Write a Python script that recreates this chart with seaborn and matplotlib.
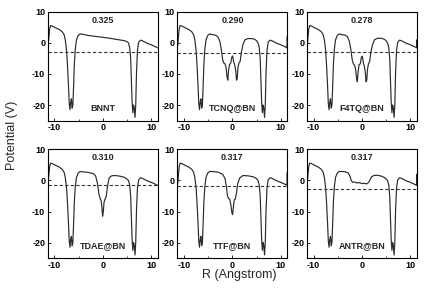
import numpy as np
import pandas as pd
import matplotlib
matplotlib.use("Agg")
import matplotlib.pyplot as plt
import seaborn as sns
from matplotlib.ticker import MultipleLocator

sns.set_theme(style="ticks")
plt.rcParams['font.family'] = ['Liberation Sans', 'DejaVu Sans']
plt.rcParams['axes.unicode_minus'] = False

names = ["BNNT", "TCNQ@BN", "F4TQ@BN", "TDAE@BN", "TTF@BN", "ANTR@BN"]
gaps = ["0.325", "0.290", "0.278", "0.310", "0.317", "0.317"]
fermi = [-3.0, -3.1, -3.0, -1.4, -1.9, -2.6]
edge_spike = [None, 2.0, 1.0, None, 2.5, 2.0]

left_x = [-11.3, -11.15, -11.0, -10.8, -10.4, -9.8, -9.0, -8.4, -8.0, -7.75, -7.5, -7.3,
          -7.1, -6.95, -6.8, -6.65, -6.5, -6.35, -6.2, -6.05, -5.9, -5.7, -5.45, -5.1, -4.7]
left_y = [-1.0, 2.0, 4.5, 5.6, 5.4, 4.9, 4.3, 3.6, 2.6, 0.8, -2.5, -7.5,
          -14.0, -19.5, -21.5, -19.0, -18.0, -21.0, -20.0, -14.0, -7.0, -2.0, 1.0, 2.4, 2.9]

right_x = [5.3, 5.55, 5.75, 5.9, 6.05, 6.2, 6.35, 6.5, 6.65, 6.8, 6.95, 7.15, 7.4,
           7.8, 8.3, 9.0, 10.0, 11.0, 11.3]
right_y = [0.0, -1.5, -5.0, -12.0, -19.0, -22.5, -20.0, -21.0, -24.0, -20.0, -10.0, -2.5, 0.2,
           0.9, 0.6, 0.0, -0.6, -1.3, -1.6]

mid_x = [
    [-4.2, -3.0, -1.0, 1.0, 3.0, 4.5, 5.0],
    [-4.2, -3.5, -3.0, -2.6, -2.3, -2.0, -1.75, -1.5, -1.3, -1.1, -0.95, -0.8, -0.6, -0.35,
     -0.1, 0.05, 0.25, 0.5, 0.7, 0.85, 1.0, 1.15, 1.35, 1.6, 1.85, 2.2, 2.6, 3.2, 4.0, 4.6, 5.0],
    [-4.2, -3.5, -3.0, -2.6, -2.3, -2.0, -1.75, -1.5, -1.3, -1.1, -0.95, -0.8, -0.6, -0.35,
     -0.1, 0.1, 0.3, 0.5, 0.7, 0.85, 1.0, 1.15, 1.35, 1.6, 1.85, 2.2, 2.6, 3.2, 4.0, 4.6, 5.0],
    [-4.2, -3.0, -2.0, -1.5, -1.1, -0.8, -0.55, -0.35, -0.2, -0.05, 0.1, 0.25, 0.45, 0.7,
     0.95, 1.3, 1.8, 2.5, 3.5, 4.5, 5.0],
    [-4.2, -3.0, -2.0, -1.5, -1.2, -1.0, -0.8, -0.55, -0.3, -0.1, 0.05, 0.2, 0.4, 0.6,
     0.85, 1.1, 1.5, 2.2, 3.2, 4.3, 5.0],
    [-4.2, -3.5, -2.9, -2.5, -2.2, -1.9, -1.5, -1.0, -0.5, 0.0, 0.5, 1.0, 1.4, 1.7,
     2.0, 2.5, 3.2, 4.0, 4.6, 5.0],
]
mid_y = [
    [2.8, 2.4, 2.0, 1.6, 1.1, 0.7, 0.4],
    [2.7, 2.5, 2.0, 0.5, -2.0, -5.5, -6.5, -6.8, -8.0, -11.0, -12.0, -9.0, -7.0, -6.5,
     -4.5, -4.2, -6.0, -7.2, -9.0, -12.0, -11.5, -8.0, -6.5, -6.0, -3.0, -0.5, 1.0, 1.4, 1.4, 1.2, 0.7],
    [2.7, 2.5, 2.0, 0.5, -2.0, -5.5, -6.8, -7.2, -8.5, -11.5, -12.5, -9.5, -7.0, -6.8,
     -4.5, -4.3, -6.5, -7.5, -9.5, -12.5, -12.0, -8.5, -6.8, -6.0, -3.0, -0.5, 1.0, 1.5, 1.5, 1.2, 0.7],
    [2.8, 2.6, 2.2, 1.5, -1.0, -4.5, -5.8, -6.5, -8.5, -11.5, -10.0, -7.0, -6.0, -5.2,
     -2.0, 0.8, 1.5, 1.6, 1.4, 1.0, 0.4],
    [2.9, 2.7, 2.0, 0.5, -2.5, -5.0, -5.8, -6.0, -8.0, -10.5, -11.0, -8.5, -6.2, -6.0,
     -4.0, -1.0, 0.8, 1.6, 1.5, 1.2, 0.6],
    [2.9, 2.8, 2.5, 1.5, 0.0, -0.6, -0.5, -0.8, -0.7, -1.0, -0.9, -1.1, -0.6, 0.3,
     1.2, 1.6, 1.7, 1.4, 1.0, 0.5],
]

rows = []
for i, nm in enumerate(names):
    xs = left_x + mid_x[i] + right_x
    ys = left_y + mid_y[i] + right_y
    if edge_spike[i] is not None:
        xs = xs + [11.3]
        ys = ys + [edge_spike[i]]
    for k, (a, b) in enumerate(zip(xs, ys)):
        rows.append({"panel": nm, "order": k, "R": a, "V": b})
df = pd.DataFrame(rows)

fig, axes = plt.subplots(2, 3, figsize=(4.36, 2.97), dpi=100)
fig.subplots_adjust(left=0.110, right=0.956, top=0.960, bottom=0.131, wspace=0.18, hspace=0.266)

for i, ax in enumerate(axes.flat):
    sub = df[df.panel == names[i]]
    sns.lineplot(data=sub, x="R", y="V", ax=ax, sort=False, estimator=None,
                 color="#2a2a2a", linewidth=0.85)
    ax.axhline(fermi[i], color="#333333", linestyle=(0, (3, 2)), linewidth=0.8)
    ax.set_xlim(-11.35, 11.35)
    ax.set_ylim(-25, 10)
    ax.set_xlabel("")
    ax.set_ylabel("")
    ax.xaxis.set_major_locator(MultipleLocator(10))
    ax.xaxis.set_minor_locator(MultipleLocator(5))
    ax.yaxis.set_major_locator(MultipleLocator(10))
    ax.tick_params(which="major", direction="in", length=2.5, width=0.6, pad=2,
                   labelsize=6.5, colors="black")
    ax.tick_params(which="minor", direction="in", length=1.5, width=0.6)
    for lab in ax.get_xticklabels() + ax.get_yticklabels():
        lab.set_fontweight("bold")
    for s in ax.spines.values():
        s.set_linewidth(0.8)
        s.set_color("black")
    ax.text(0, 7.3, gaps[i], ha="center", va="center", fontsize=6.5, fontweight="bold")
    ax.text(0, -21, names[i], ha="center", va="center", fontsize=6.5, fontweight="bold")

fig.text(0.028, 0.545, "Potential (V)", rotation=90, ha="center", va="center", fontsize=9)
fig.text(0.548, 0.074, "R (Angstrom)", ha="center", va="center", fontsize=9)

fig.savefig("out.png", dpi=100)
